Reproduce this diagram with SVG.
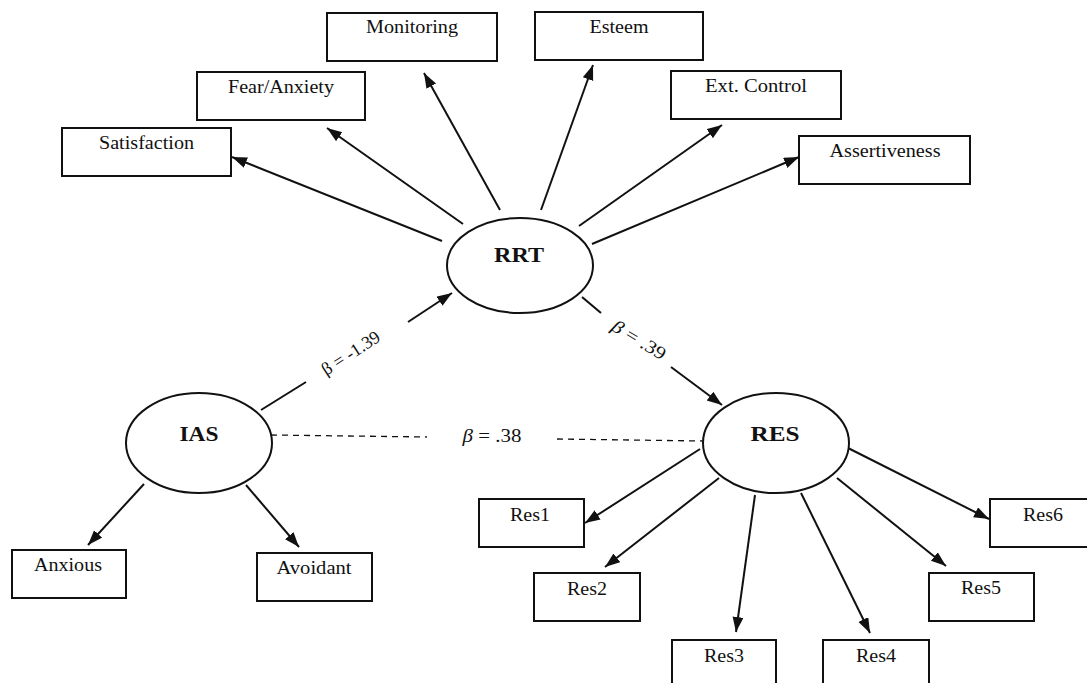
<svg xmlns="http://www.w3.org/2000/svg" width="1087" height="683" viewBox="0 0 1087 683">
<style>
.box{fill:#fff;stroke:#111;stroke-width:2}
.ell{fill:#fff;stroke:#111;stroke-width:2}
.lbl{font-family:"Liberation Serif","Times New Roman",serif;font-size:18px;fill:#111;text-anchor:middle}
.big{font-family:"Liberation Serif","Times New Roman",serif;font-size:20px;font-weight:bold;fill:#111;text-anchor:middle}
.beta{font-family:"Liberation Serif","Times New Roman",serif;font-size:18px;fill:#111;text-anchor:middle}
.ar{stroke:#111;stroke-width:2;fill:none;marker-end:url(#ah)}
.ln{stroke:#111;stroke-width:2;fill:none}
.dash{stroke:#111;stroke-width:1.3;fill:none;stroke-dasharray:6,5}
</style>
<defs>
<marker id="ah" markerUnits="userSpaceOnUse" markerWidth="16" markerHeight="12" refX="15" refY="5.5" orient="auto">
<path d="M0,0 L15,5.5 L0,11 z" fill="#111"/>
</marker>
</defs>
<rect width="1087" height="683" fill="#fff"/>
<g id="connectors">
<line class="ar" x1="442" y1="241" x2="232" y2="157"/>
<line class="ar" x1="463" y1="224" x2="327" y2="128"/>
<line class="ar" x1="500" y1="210" x2="424" y2="73"/>
<line class="ar" x1="541" y1="210" x2="593" y2="65"/>
<line class="ar" x1="579" y1="226" x2="722" y2="125"/>
<line class="ar" x1="592" y1="244" x2="799" y2="157"/>
<line class="ln" x1="261" y1="410" x2="306" y2="382"/>
<line class="ar" x1="408" y1="322" x2="452" y2="293"/>
<line class="ln" x1="582" y1="297" x2="601" y2="313"/>
<line class="ar" x1="671" y1="367" x2="722" y2="405"/>
<line class="dash" x1="271" y1="435" x2="427" y2="437"/>
<line class="dash" x1="557" y1="439" x2="703" y2="441"/>
<line class="ar" x1="144" y1="484" x2="88" y2="545"/>
<line class="ar" x1="246" y1="485" x2="299" y2="547"/>
<line class="ar" x1="700" y1="449" x2="585" y2="523"/>
<line class="ar" x1="719" y1="478" x2="605" y2="567"/>
<line class="ar" x1="755" y1="495" x2="736" y2="632"/>
<line class="ar" x1="801" y1="493" x2="870" y2="633"/>
<line class="ar" x1="837" y1="478" x2="946" y2="566"/>
<line class="ar" x1="848" y1="448" x2="989" y2="519"/>
<text class="beta" transform="translate(354,358) rotate(-33)" textLength="66" lengthAdjust="spacingAndGlyphs">β = -1.39</text>
<text class="beta" transform="translate(636,345) rotate(31)" textLength="60" lengthAdjust="spacingAndGlyphs"><tspan font-style="italic">β</tspan> = .39</text>
<text class="beta" x="492" y="442" textLength="59" lengthAdjust="spacingAndGlyphs"><tspan font-style="italic">β</tspan> = .38</text>
</g>
<g id="Satisfaction"><rect class="box" x="62" y="128" width="169" height="48"/><text class="lbl" x="146.5" y="149" textLength="95" lengthAdjust="spacingAndGlyphs">Satisfaction</text></g>
<g id="FearAnxiety"><rect class="box" x="197" y="72" width="168" height="48"/><text class="lbl" x="281" y="93" textLength="106" lengthAdjust="spacingAndGlyphs">Fear/Anxiety</text></g>
<g id="Monitoring"><rect class="box" x="327" y="13" width="170" height="48"/><text class="lbl" x="412" y="33" textLength="92" lengthAdjust="spacingAndGlyphs">Monitoring</text></g>
<g id="Esteem"><rect class="box" x="535" y="12" width="168" height="48"/><text class="lbl" x="619" y="33" textLength="59" lengthAdjust="spacingAndGlyphs">Esteem</text></g>
<g id="ExtControl"><rect class="box" x="671" y="71" width="170" height="48"/><text class="lbl" x="756" y="92" textLength="102" lengthAdjust="spacingAndGlyphs">Ext. Control</text></g>
<g id="Assertiveness"><rect class="box" x="799" y="136" width="171" height="48"/><text class="lbl" x="885" y="157" textLength="111" lengthAdjust="spacingAndGlyphs">Assertiveness</text></g>
<g id="RRT"><ellipse class="ell" cx="520" cy="265.5" rx="73" ry="47.5"/><text class="big" x="519" y="262" textLength="50" lengthAdjust="spacingAndGlyphs">RRT</text></g>
<g id="IAS"><ellipse class="ell" cx="199" cy="443" rx="73" ry="50"/><text class="big" x="199" y="441" textLength="39" lengthAdjust="spacingAndGlyphs">IAS</text></g>
<g id="RES"><ellipse class="ell" cx="776" cy="443" rx="73" ry="50"/><text class="big" x="775" y="441" textLength="49" lengthAdjust="spacingAndGlyphs">RES</text></g>
<g id="Anxious"><rect class="box" x="12" y="550" width="114" height="48"/><text class="lbl" x="68" y="571" textLength="68" lengthAdjust="spacingAndGlyphs">Anxious</text></g>
<g id="Avoidant"><rect class="box" x="257" y="553" width="115" height="48"/><text class="lbl" x="314" y="574" textLength="75" lengthAdjust="spacingAndGlyphs">Avoidant</text></g>
<g id="Res1"><rect class="box" x="479" y="499" width="105" height="48"/><text class="lbl" x="530" y="521" textLength="40" lengthAdjust="spacingAndGlyphs">Res1</text></g>
<g id="Res2"><rect class="box" x="534" y="573" width="106" height="48"/><text class="lbl" x="587" y="595" textLength="40" lengthAdjust="spacingAndGlyphs">Res2</text></g>
<g id="Res3"><rect class="box" x="672" y="640" width="104" height="50"/><text class="lbl" x="724" y="662" textLength="40" lengthAdjust="spacingAndGlyphs">Res3</text></g>
<g id="Res4"><rect class="box" x="823" y="640" width="106" height="50"/><text class="lbl" x="876" y="662" textLength="40" lengthAdjust="spacingAndGlyphs">Res4</text></g>
<g id="Res5"><rect class="box" x="929" y="573" width="105" height="48"/><text class="lbl" x="981" y="594" textLength="40" lengthAdjust="spacingAndGlyphs">Res5</text></g>
<g id="Res6"><rect class="box" x="990" y="499" width="106" height="48"/><text class="lbl" x="1043" y="521" textLength="40" lengthAdjust="spacingAndGlyphs">Res6</text></g>
</svg>
